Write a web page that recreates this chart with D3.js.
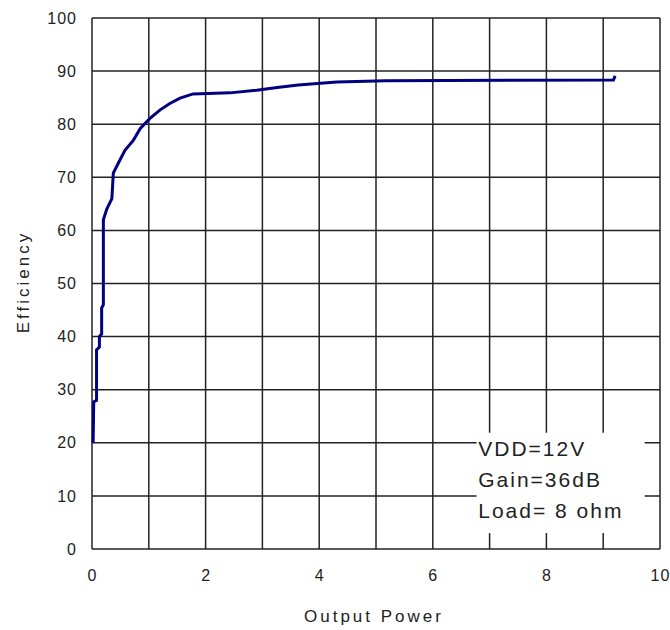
<!DOCTYPE html>
<html>
<head>
<meta charset="utf-8">
<script src="https://cdn.jsdelivr.net/npm/d3@7"></script>
<style>
  body { margin: 0; background: #fff; }
  text { font-family: "Liberation Sans", Arial, sans-serif; }
</style>
</head>
<body>
<svg id="svg1" width="670" height="630"></svg>
<script>
// values
var power = [0.02, 0.03, 0.08, 0.08, 0.13, 0.13, 0.17, 0.17, 0.2, 0.2, 0.26, 0.35, 0.375, 0.46, 0.58, 0.73, 0.85, 1.02, 1.2, 1.37, 1.55, 1.78, 2.43, 2.9, 3.26, 3.63, 4.31, 5.16, 9.18, 9.21];
var efficiency = [20, 27.7, 28, 37.5, 38, 40, 40.5, 45.4, 46, 62, 64, 66, 70.8, 72.6, 75.1, 77, 79.2, 81.1, 82.7, 83.9, 84.9, 85.7, 85.9, 86.4, 86.9, 87.4, 87.95, 88.2, 88.3, 89.1];
var xTicks = [0, 2, 4, 6, 8, 10];
var yTicks = [0, 10, 20, 30, 40, 50, 60, 70, 80, 90, 100];
var notes = ["VDD=12V", "Gain=36dB", "Load= 8 ohm"];

var marge = {haut: 18, droite: 10, bas: 81, gauche: 92};
var largeur = 670 - marge.gauche - marge.droite;
var hauteur = 630 - marge.haut - marge.bas;

var svg = d3.select("#svg1");
var g = svg.append("g").attr("transform", "translate(" + marge.gauche + "," + marge.haut + ")");

var x = d3.scaleLinear().domain([0, 10]).range([0, largeur]);
var y = d3.scaleLinear().domain([0, 100]).range([hauteur, 0]);

// grid, one line per unit on x
g.selectAll(".vgrid").data(d3.range(0, 11))
    .enter().append("line")
    .attr("x1", d => x(d)).attr("x2", d => x(d))
    .attr("y1", 0).attr("y2", hauteur)
    .style("stroke", "#222").style("stroke-width", 1.5);

g.selectAll(".hgrid").data(yTicks)
    .enter().append("line")
    .attr("x1", 0).attr("x2", largeur)
    .attr("y1", d => y(d)).attr("y2", d => y(d))
    .style("stroke", "#222").style("stroke-width", 1.5);

// axes labels
var xAxis = g.append("g").attr("transform", "translate(0," + hauteur + ")")
    .call(d3.axisBottom(x).tickValues(xTicks).tickSize(0).tickPadding(21).tickFormat(d3.format("d")));
xAxis.select(".domain").remove();
xAxis.selectAll("text").style("font-size", "16px").style("letter-spacing", "1px").style("fill", "#222");

var yAxis = g.append("g")
    .call(d3.axisLeft(y).tickValues(yTicks).tickSize(0).tickPadding(15).tickFormat(d3.format("d")));
yAxis.select(".domain").remove();
yAxis.selectAll("text").style("font-size", "16px").style("letter-spacing", "1px").style("fill", "#222");

// note box covers the grid
g.append("rect")
    .attr("x", x(6.77)).attr("y", y(21.9))
    .attr("width", x(9.73) - x(6.77)).attr("height", y(3) - y(21.9))
    .style("fill", "#fff");

g.selectAll(".note").data(notes)
    .enter().append("text")
    .attr("x", x(6.8)).attr("y", (d, i) => y(17.5) + i * 31)
    .style("font-size", "21px").style("letter-spacing", "2px").style("fill", "#222")
    .text(d => d);

// curve
var pts = power.map((p, i) => [p, efficiency[i]]);
g.append("path")
    .datum(pts)
    .attr("d", d3.line().x(d => x(d[0])).y(d => y(d[1])))
    .style("fill", "none")
    .style("stroke", "#000080")
    .style("stroke-width", 3);

svg.append("text")
    .attr("x", 374).attr("y", 622)
    .attr("text-anchor", "middle")
    .style("font-size", "17px").style("letter-spacing", "3px").style("fill", "#222")
    .text("Output Power");

svg.append("text")
    .attr("transform", "translate(29,282) rotate(-90)")
    .attr("text-anchor", "middle")
    .style("font-size", "17px").style("letter-spacing", "3px").style("fill", "#222")
    .text("Efficiency");
</script>
</body>
</html>
